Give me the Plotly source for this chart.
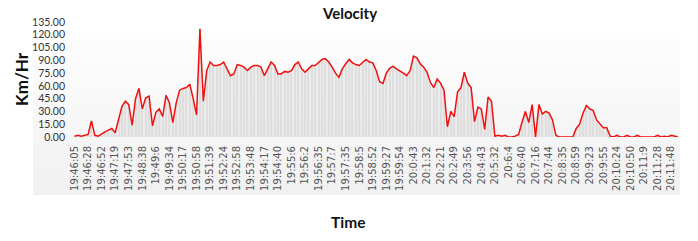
import plotly.graph_objects as go

tick_labels = ["19:46:05", "19:46:28", "19:46:52", "19:47:19", "19:47:53", "19:48:38", "19:49:6",
               "19:49:34", "19:50:17", "19:50:58", "19:51:39", "19:52:24", "19:52:58", "19:53:48",
               "19:54:17", "19:54:40", "19:55:6", "19:56:2", "19:56:35", "19:57:7", "19:57:35",
               "19:58:5", "19:58:52", "19:59:27", "19:59:54", "20:0:43", "20:1:32", "20:2:21",
               "20:2:49", "20:3:56", "20:4:43", "20:5:32", "20:6:4", "20:6:40", "20:7:16",
               "20:7:44", "20:8:35", "20:8:59", "20:9:23", "20:9:55", "20:10:24", "20:10:50",
               "20:11:9", "20:11:28", "20:11:48"]

velocity = [1, 2, 1, 2, 3, 19, 2, 1, 4, 6, 8, 10, 5, 20, 36, 42, 38, 14, 45, 57,
            33, 46, 48, 13, 29, 33, 24, 49, 40, 17, 40, 55, 57, 58, 62, 45, 26, 127, 42, 78,
            88, 84, 84, 85, 88, 80, 72, 74, 85, 84, 82, 78, 82, 84, 84, 82, 72, 80, 88, 84,
            74, 74, 77, 76, 78, 85, 88, 80, 76, 80, 84, 84, 88, 91, 92, 88, 82, 75, 70, 80,
            86, 91, 87, 85, 84, 88, 91, 88, 87, 78, 65, 63, 75, 81, 83, 80, 78, 75, 72, 78,
            95, 93, 86, 82, 76, 64, 58, 68, 63, 55, 12, 30, 24, 53, 58, 76, 63, 58, 18, 35,
            33, 9, 47, 42, 1, 2, 1, 2, 0, 0, 1, 3, 17, 30, 17, 38, 0, 38, 27, 30,
            28, 20, 2, 0, 0, 0, 0, 0, 10, 15, 28, 37, 33, 31, 20, 15, 11, 11, 1, 0,
            2, 0, 0, 2, 0, 0, 2, 0, 0, 0, 0, 0, 2, 0, 1, 0, 2, 1, 0]

y_ticks = [0, 15, 30, 45, 60, 75, 90, 105, 120, 135]
points_per_label = 4

idx = list(range(len(velocity)))
tickvals = [i * points_per_label for i in range(len(tick_labels))]

fig = go.Figure()
fig.add_trace(go.Bar(x=idx, y=velocity, width=0.3, marker=dict(color="#d6d6d6", line=dict(width=0)),
                     hoverinfo="skip", showlegend=False))
fig.add_trace(go.Scatter(x=idx, y=velocity, mode="lines", fill="tozeroy",
                         fillcolor="rgba(226,226,226,0.6)",
                         line=dict(color="#f01010", width=1.5), showlegend=False))

# subtle gradient panel behind chart
shapes = []
top_px, bot_px, left_px, right_px = 20, 195, 33, 680
plot_top, plot_bot, plot_left, plot_right = 22, 137, 74, 679
steps = 14
for s in range(steps):
    y0 = top_px + (bot_px - top_px) * s / steps
    y1 = top_px + (bot_px - top_px) * (s + 1) / steps
    c = int(255 - 14 * s / (steps - 1))
    shapes.append(dict(type="rect", xref="paper", yref="paper", layer="below",
                       x0=(left_px - plot_left) / (plot_right - plot_left),
                       x1=(right_px - plot_left) / (plot_right - plot_left),
                       y0=(plot_bot - y1) / (plot_bot - plot_top),
                       y1=(plot_bot - y0) / (plot_bot - plot_top),
                       fillcolor=f"rgb({c},{c},{c})", line=dict(width=0)))

fig.update_layout(
    width=698, height=241,
    margin=dict(l=74, r=19, t=22, b=104),
    paper_bgcolor="white", plot_bgcolor="rgba(0,0,0,0)",
    bargap=0, shapes=shapes,
    xaxis=dict(range=[-0.15, 178.32], tickmode="array", tickvals=tickvals, ticktext=tick_labels,
               tickangle=-90, tickfont=dict(family="DejaVu Sans", size=10, color="#555555"),
               ticklabelstandoff=6,
               showgrid=False, zeroline=False, showline=False, ticks="", ticklen=0),
    yaxis=dict(range=[0, 135], tickmode="array", tickvals=y_ticks,
               ticktext=[f"{v:.2f}" for v in y_ticks],
               tickfont=dict(family="Lato", size=10.5, color="#333333"),
               ticklabelstandoff=8,
               showgrid=False, zeroline=False, showline=False, ticks=""),
    annotations=[
        dict(text="<b>Velocity</b>", xref="paper", yref="paper", x=(349 - 74) / 605, y=(137 - 13) / 115,
             showarrow=False, font=dict(family="Lato", size=15, color="#111111"), xanchor="center", yanchor="middle"),
        dict(text="<b>Km/Hr</b>", xref="paper", yref="paper", x=(21 - 74) / 605, y=(137 - 79) / 115,
             showarrow=False, textangle=-90, font=dict(family="Lato", size=17, color="#111111"),
             xanchor="center", yanchor="middle"),
        dict(text="<b>Time</b>", xref="paper", yref="paper", x=(348 - 74) / 605, y=(137 - 222) / 115,
             showarrow=False, font=dict(family="Lato", size=15.5, color="#111111"),
             xanchor="center", yanchor="middle"),
    ],
)

fig.write_html("out.html", config={"displayModeBar": False},
               post_script="document.body.style.margin='0';document.body.style.padding='0';")
